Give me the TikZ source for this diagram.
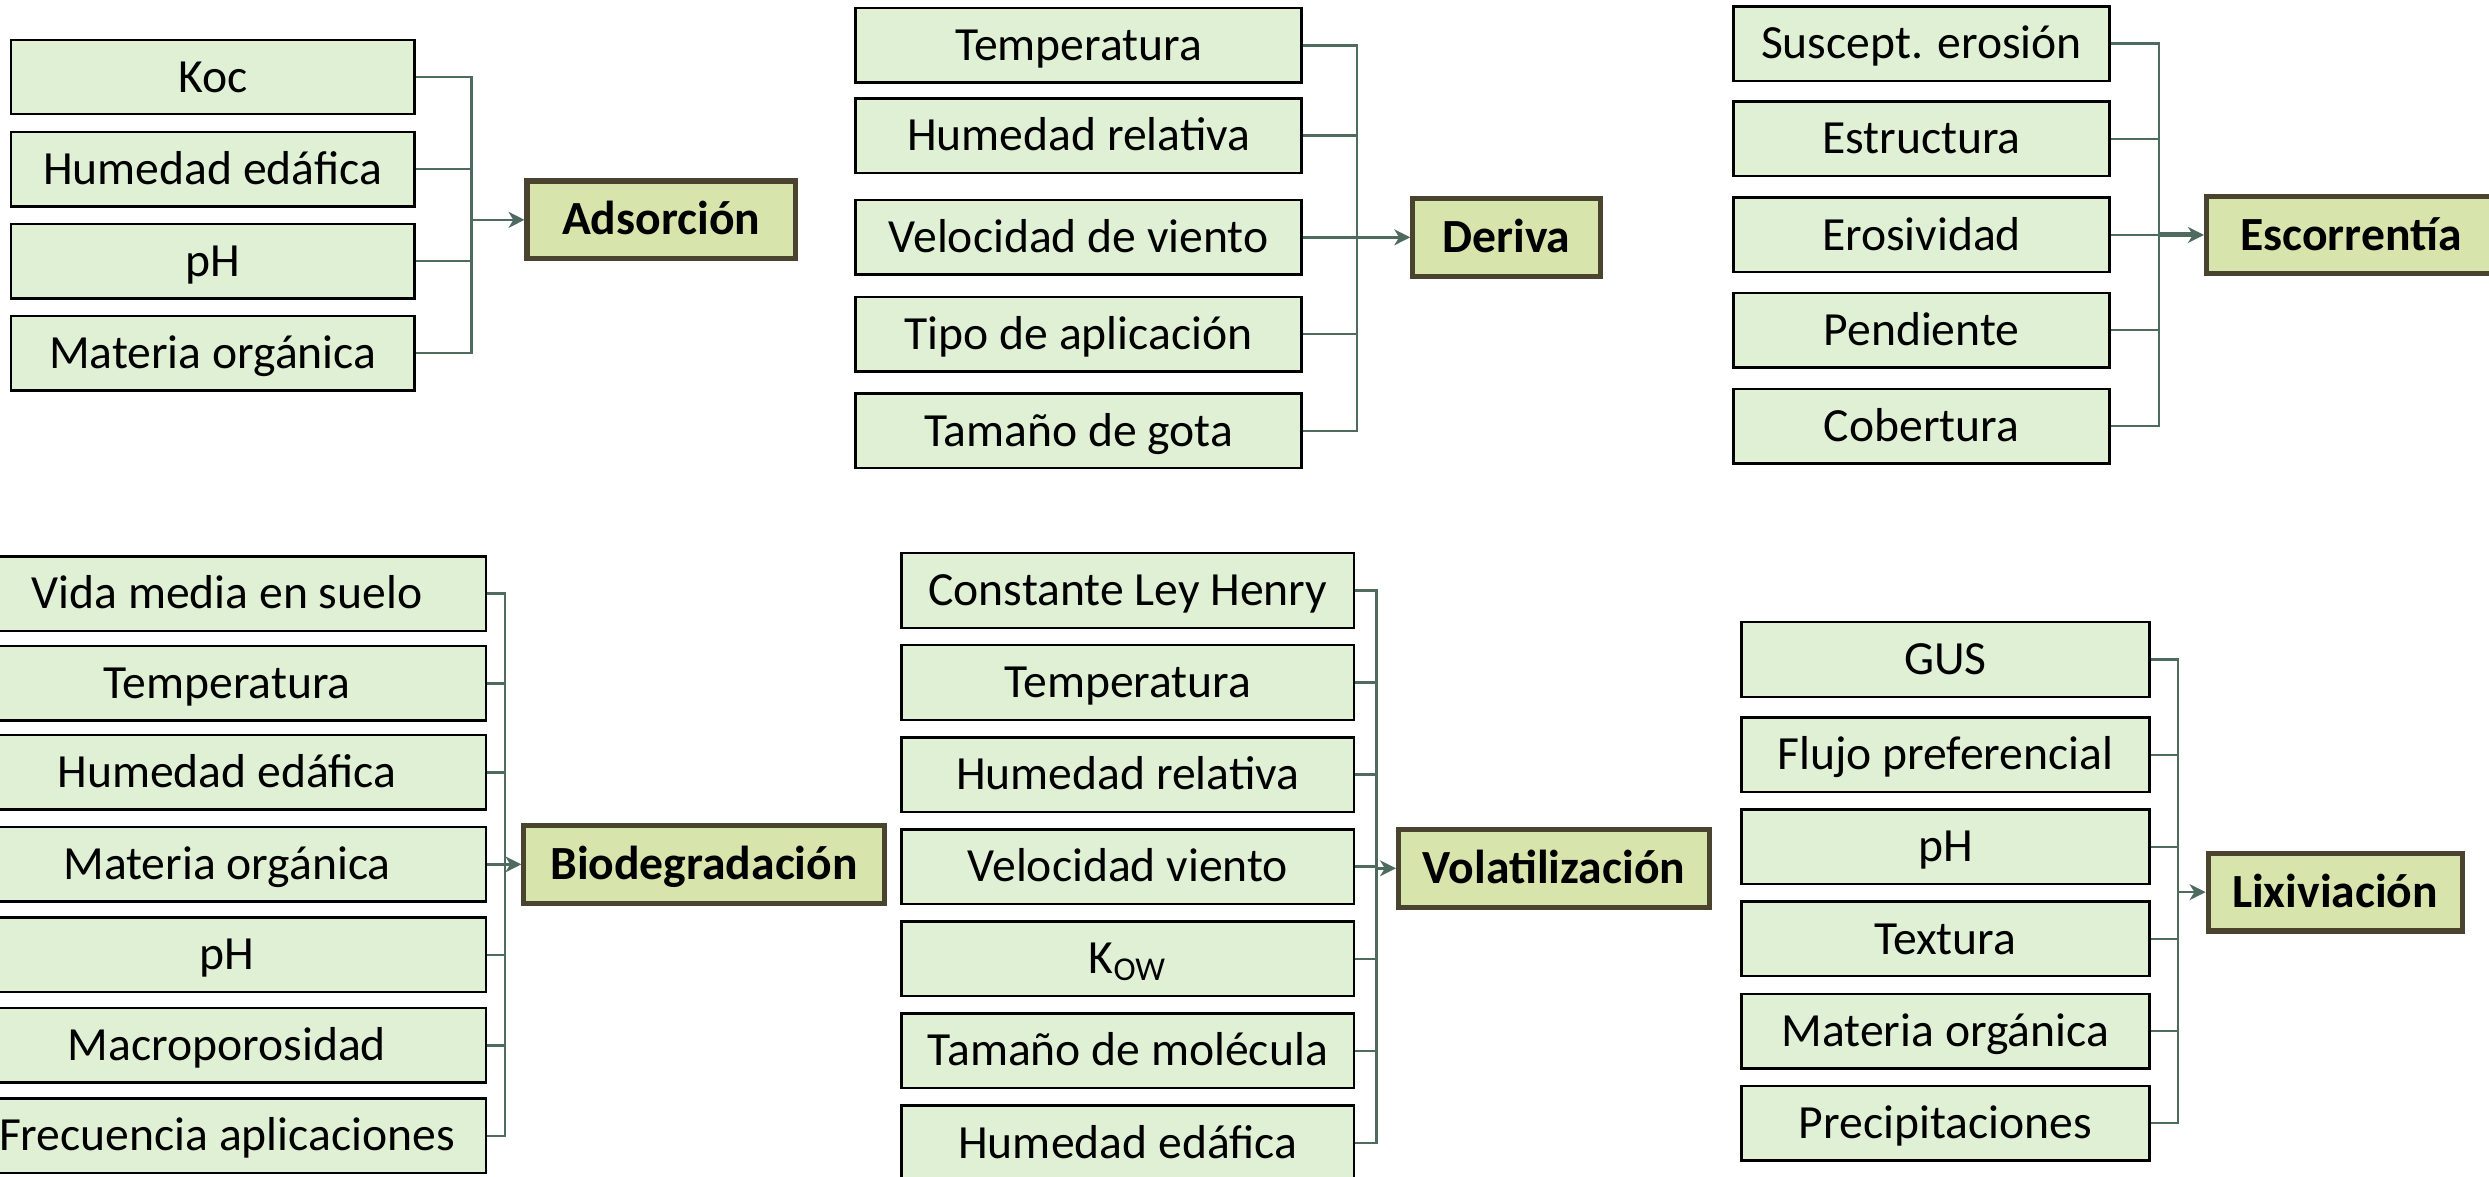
\documentclass[tikz,border=0pt]{standalone}
\usepackage{fontspec}
\setmainfont{Carlito}
\usetikzlibrary{arrows.meta}
\definecolor{facfill}{HTML}{DFF0D4}
\definecolor{procfill}{HTML}{D7E4AB}
\definecolor{procdraw}{HTML}{4A4330}
\definecolor{conncol}{HTML}{4F6B5E}
\begin{document}
\begin{tikzpicture}[x=0.5pt,y=-0.5pt,
  fac/.style={draw=black,line width=0.75pt,fill=facfill,inner sep=0pt,minimum height=23.5pt,text height=10.5pt,text depth=1pt,font=\fontsize{15}{18}\selectfont},
  proc/.style={draw=procdraw,line width=1.6pt,fill=procfill,inner sep=0pt,minimum height=24.5pt,text height=10.5pt,text depth=1pt,font=\fontsize{15}{18}\selectfont\bfseries},
  conn/.style={draw=conncol,line width=0.8pt},
  arr/.style={conn,-{Stealth[length=5pt,width=5pt,inset=1.5pt]}}]
\clip (0,0) rectangle (1568,741);
\fill[white] (0,0) rectangle (1568,741);

% ---------- Adsorcion ----------
\begin{scope}[every node/.append style={minimum width=127pt}]
\node[fac] (a1) at (134,48.5) {Koc};
\node[fac] (a2) at (134,106.5) {Humedad edáfica};
\node[fac] (a3) at (134,164.5) {pH};
\node[fac] (a4) at (134,222.5) {Materia orgánica};
\end{scope}
\coordinate (hA) at (297,138.5);
\node[proc,minimum width=84.5pt] (A) at (416.5,138.5) {Adsorción};
\foreach \n in {a1,a2,a3,a4} \draw[conn] (\n.east) -| (hA);
\draw[arr] (hA) -- (A.west);

% ---------- Deriva ----------
\begin{scope}[every node/.append style={minimum width=140.5pt}]
\node[fac] (b1) at (679.5,28.5) {Temperatura};
\node[fac] (b2) at (679.5,85.5) {Humedad relativa};
\node[fac] (b3) at (679.5,149.5) {Velocidad de viento};
\node[fac] (b4) at (679.5,210.5) {Tipo de aplicación};
\node[fac] (b5) at (679.5,271.5) {Tamaño de gota};
\end{scope}
\coordinate (hB) at (855,149.5);
\node[proc,minimum width=59pt] (B) at (949,149.5) {Deriva};
\foreach \n in {b1,b2,b3,b4,b5} \draw[conn] (\n.east) -| (hB);
\draw[arr] (hB) -- (B.west);

% ---------- Escorrentia ----------
\begin{scope}[every node/.append style={minimum width=118.5pt}]
\node[fac] (c1) at (1210.5,27.5) {Suscept. erosión};
\node[fac] (c2) at (1210.5,87.5) {Estructura};
\node[fac] (c3) at (1210.5,148) {Erosividad};
\node[fac] (c4) at (1210.5,208) {Pendiente};
\node[fac] (c5) at (1210.5,268.5) {Cobertura};
\end{scope}
\coordinate (hC) at (1360,148);
\node[proc,minimum width=91pt] (C) at (1481,148) {Escorrentía};
\foreach \n in {c1,c2,c3,c4,c5} \draw[conn] (\n.east) -| (hC);
\draw[arr,line width=1.6pt] (hC) -- (C.west);

% ---------- Biodegradacion ----------
\begin{scope}[every node/.append style={minimum width=163pt}]
\node[fac] (d1) at (143,374) {Vida media en suelo};
\node[fac] (d2) at (143,430.5) {Temperatura};
\node[fac] (d3) at (143,486.5) {Humedad edáfica};
\node[fac] (d4) at (143,544.5) {Materia orgánica};
\node[fac] (d5) at (143,601.5) {pH};
\node[fac] (d6) at (143,658.5) {Macroporosidad};
\node[fac] (d7) at (143,715.5) {Frecuencia aplicaciones};
\end{scope}
\coordinate (hD) at (318,544.5);
\node[proc,minimum width=113.5pt] (D) at (443.5,544.5) {Biodegradación};
\foreach \n in {d1,d2,d3,d4,d5,d6,d7} \draw[conn] (\n.east) -| (hD);
\draw[arr] (hD) -- (D.west);

% ---------- Volatilizacion ----------
\begin{scope}[every node/.append style={minimum width=142.5pt,minimum height=24pt}]
\node[fac] (e1) at (710.5,372) {Constante Ley Henry};
\node[fac] (e2) at (710.5,430) {Temperatura};
\node[fac] (e3) at (710.5,488) {Humedad relativa};
\node[fac] (e4) at (710.5,546) {Velocidad viento};
\node[fac] (e5) at (710.5,604) {K\textsubscript{OW}};
\node[fac] (e6) at (710.5,662) {Tamaño de molécula};
\node[fac] (e7) at (710.5,720) {Humedad edáfica};
\end{scope}
\coordinate (hE) at (867,547);
\node[proc,minimum width=98pt] (E) at (979,547) {Volatilización};
\foreach \n in {e1,e2,e3,e4,e5,e6,e7} \draw[conn] (\n.east) -| (hE);
\draw[arr] (hE) -- (E.west);

% ---------- Lixiviacion ----------
\begin{scope}[every node/.append style={minimum width=128.5pt}]
\node[fac] (f1) at (1225.5,415.5) {GUS};
\node[fac] (f2) at (1225.5,475.5) {Flujo preferencial};
\node[fac] (f3) at (1225.5,533.5) {pH};
\node[fac] (f4) at (1225.5,591.5) {Textura};
\node[fac] (f5) at (1225.5,649.5) {Materia orgánica};
\node[fac] (f6) at (1225.5,707.5) {Precipitaciones};
\end{scope}
\coordinate (hF) at (1372,562);
\node[proc,minimum width=80pt] (F) at (1471,562) {Lixiviación};
\foreach \n in {f1,f2,f3,f4,f5,f6} \draw[conn] (\n.east) -| (hF);
\draw[arr] (hF) -- (F.west);
\end{tikzpicture}
\end{document}
